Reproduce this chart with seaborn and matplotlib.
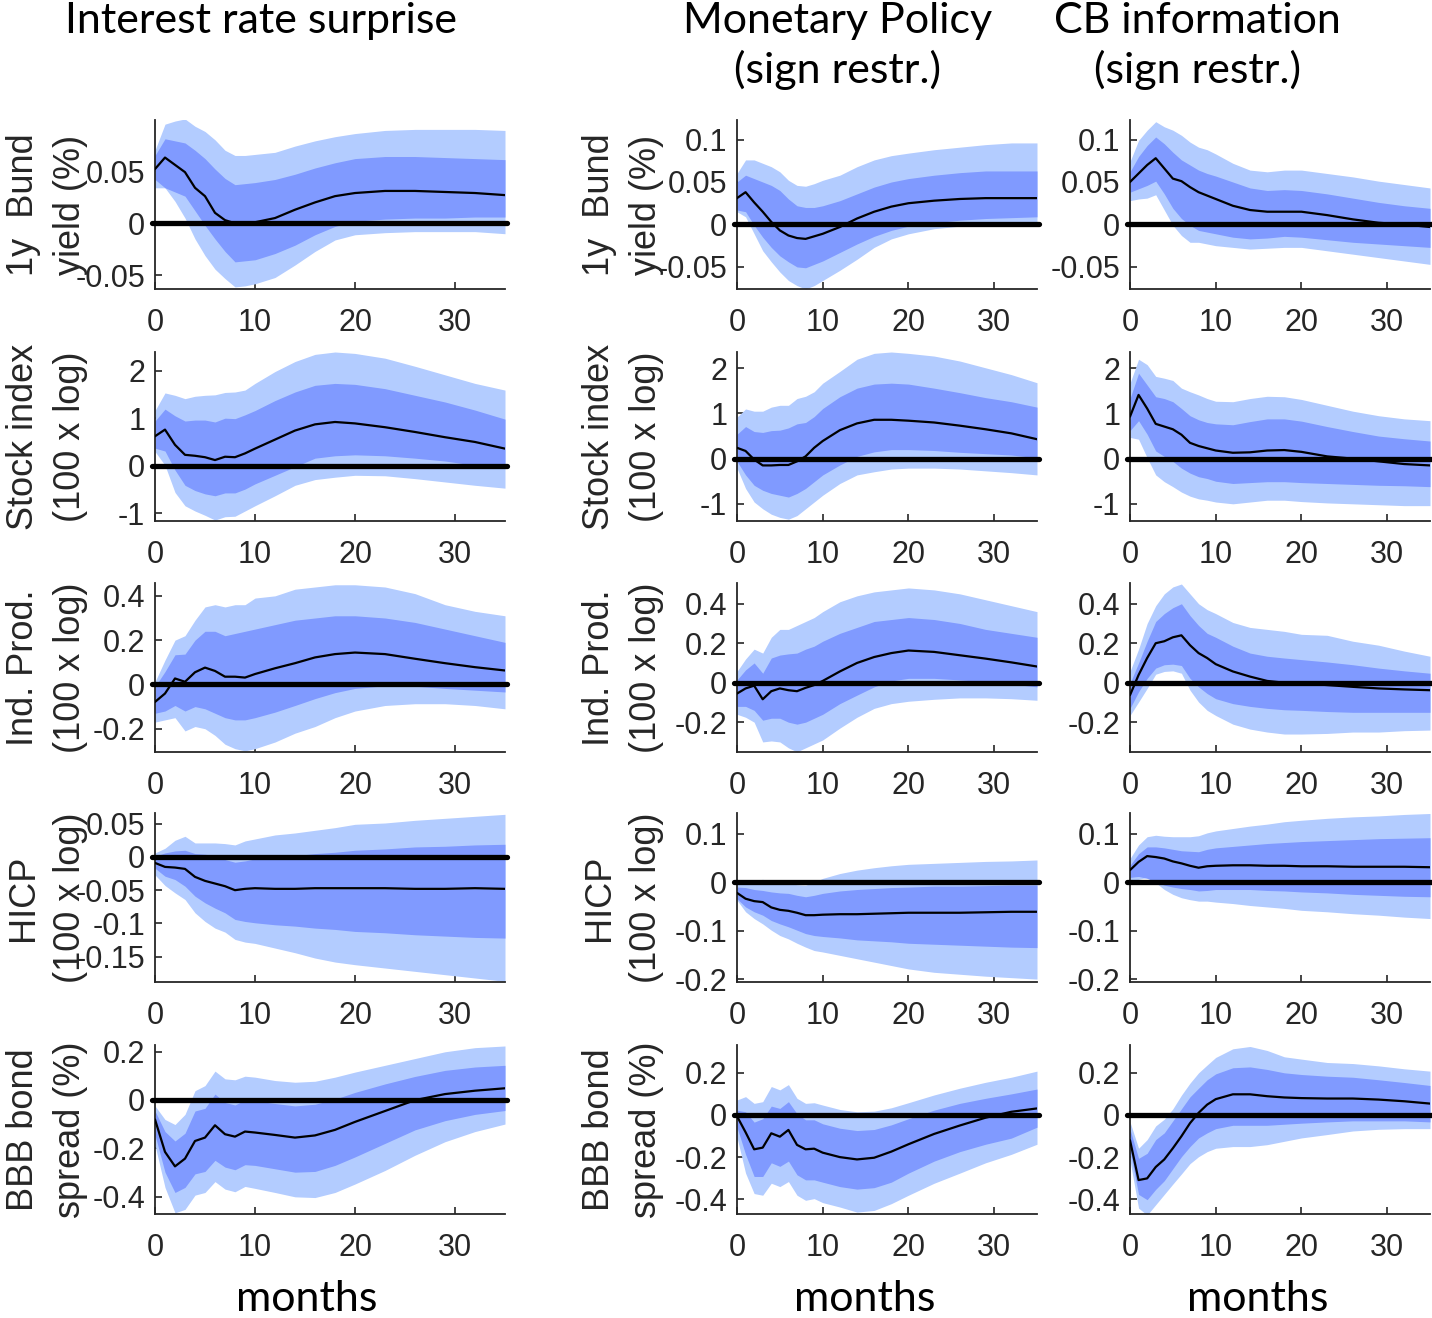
import matplotlib
matplotlib.use("Agg")
import matplotlib.pyplot as plt
import seaborn as sns

horizon = [0, 1, 2, 3, 4, 5, 6, 7, 8, 9, 10, 12, 14, 16, 18, 20, 23, 26, 29, 32, 35]

shock_titles = ["Interest rate surprise", "Monetary Policy\n(sign restr.)", "CB information\n(sign restr.)"]
var_labels = ["1y  Bund\nyield (%)", "Stock index\n(100 x log)", "Ind. Prod.\n(100 x log)",
              "HICP\n(100 x log)", "BBB bond\nspread (%)"]

# === 1y Bund yield ===
bund_irs_med = [0.052, 0.063, 0.056, 0.049, 0.034, 0.026, 0.010, 0.003, 0.0, 0.0, 0.001, 0.005, 0.013, 0.020, 0.026, 0.029, 0.031, 0.031, 0.030, 0.029, 0.027]
bund_irs_hi68 = [0.065, 0.081, 0.079, 0.077, 0.070, 0.062, 0.052, 0.043, 0.037, 0.038, 0.039, 0.042, 0.047, 0.053, 0.058, 0.062, 0.064, 0.064, 0.063, 0.062, 0.061]
bund_irs_lo68 = [0.042, 0.034, 0.030, 0.026, 0.012, -0.002, -0.015, -0.027, -0.037, -0.036, -0.035, -0.029, -0.021, -0.011, -0.003, 0.002, 0.004, 0.005, 0.005, 0.006, 0.006]
bund_irs_hi90 = [0.070, 0.095, 0.098, 0.100, 0.093, 0.088, 0.080, 0.070, 0.065, 0.065, 0.066, 0.068, 0.074, 0.079, 0.083, 0.086, 0.089, 0.090, 0.090, 0.090, 0.089]
bund_irs_lo90 = [0.034, 0.034, 0.021, 0.005, -0.015, -0.031, -0.044, -0.053, -0.061, -0.060, -0.058, -0.052, -0.040, -0.027, -0.016, -0.011, -0.009, -0.008, -0.008, -0.008, -0.010]

bund_mp_med = [0.031, 0.038, 0.026, 0.015, 0.003, -0.007, -0.013, -0.016, -0.017, -0.014, -0.011, -0.003, 0.007, 0.015, 0.021, 0.025, 0.028, 0.030, 0.031, 0.031, 0.031]
bund_mp_hi68 = [0.050, 0.058, 0.054, 0.050, 0.046, 0.040, 0.030, 0.022, 0.020, 0.020, 0.022, 0.028, 0.036, 0.044, 0.050, 0.054, 0.058, 0.061, 0.063, 0.063, 0.063]
bund_mp_lo68 = [0.017, 0.015, -0.001, -0.015, -0.027, -0.037, -0.044, -0.050, -0.051, -0.047, -0.043, -0.033, -0.023, -0.014, -0.007, -0.002, 0.002, 0.005, 0.007, 0.008, 0.009]
bund_mp_hi90 = [0.060, 0.076, 0.076, 0.072, 0.068, 0.062, 0.052, 0.046, 0.045, 0.048, 0.052, 0.058, 0.068, 0.076, 0.081, 0.084, 0.088, 0.091, 0.094, 0.096, 0.096]
bund_mp_lo90 = [0.015, 0.009, -0.011, -0.031, -0.044, -0.056, -0.066, -0.072, -0.076, -0.072, -0.066, -0.054, -0.041, -0.027, -0.017, -0.011, -0.005, -0.002, 0.0, 0.002, 0.002]

bund_cbi_med = [0.050, 0.060, 0.070, 0.078, 0.066, 0.054, 0.051, 0.044, 0.038, 0.034, 0.030, 0.022, 0.017, 0.015, 0.015, 0.015, 0.011, 0.006, 0.002, 0.0, -0.003]
bund_cbi_hi68 = [0.062, 0.080, 0.093, 0.103, 0.095, 0.085, 0.076, 0.070, 0.064, 0.060, 0.057, 0.050, 0.043, 0.040, 0.041, 0.040, 0.036, 0.031, 0.026, 0.022, 0.019]
bund_cbi_lo68 = [0.038, 0.042, 0.046, 0.051, 0.036, 0.019, 0.007, -0.001, -0.007, -0.009, -0.011, -0.015, -0.017, -0.016, -0.014, -0.015, -0.018, -0.021, -0.023, -0.025, -0.027]
bund_cbi_hi90 = [0.074, 0.099, 0.111, 0.121, 0.115, 0.111, 0.105, 0.097, 0.091, 0.088, 0.083, 0.072, 0.064, 0.062, 0.064, 0.064, 0.060, 0.056, 0.051, 0.047, 0.043]
bund_cbi_lo90 = [0.028, 0.030, 0.031, 0.035, 0.017, -0.001, -0.013, -0.021, -0.021, -0.023, -0.025, -0.027, -0.029, -0.028, -0.027, -0.027, -0.031, -0.035, -0.039, -0.043, -0.047]

# === Stock index ===
stock_irs_med = [0.62, 0.76, 0.44, 0.23, 0.21, 0.18, 0.12, 0.19, 0.18, 0.26, 0.36, 0.55, 0.74, 0.87, 0.92, 0.89, 0.81, 0.71, 0.60, 0.50, 0.36]
stock_irs_hi68 = [0.94, 1.19, 1.05, 0.94, 0.96, 0.96, 0.92, 1.00, 0.99, 1.07, 1.16, 1.37, 1.55, 1.69, 1.73, 1.71, 1.62, 1.48, 1.34, 1.17, 0.98]
stock_irs_lo68 = [0.37, 0.31, -0.09, -0.41, -0.52, -0.59, -0.63, -0.57, -0.57, -0.49, -0.38, -0.20, -0.02, 0.16, 0.21, 0.23, 0.21, 0.16, 0.10, 0.01, -0.06]
stock_irs_hi90 = [1.16, 1.53, 1.48, 1.41, 1.46, 1.48, 1.49, 1.54, 1.55, 1.59, 1.73, 1.98, 2.19, 2.34, 2.39, 2.36, 2.26, 2.09, 1.91, 1.73, 1.59]
stock_irs_lo90 = [0.30, 0.01, -0.56, -0.84, -0.95, -1.04, -1.14, -1.07, -1.06, -0.95, -0.84, -0.63, -0.41, -0.29, -0.24, -0.20, -0.21, -0.27, -0.34, -0.41, -0.47]

stock_mp_med = [0.24, 0.17, -0.02, -0.15, -0.15, -0.14, -0.14, -0.06, 0.05, 0.24, 0.39, 0.63, 0.78, 0.86, 0.86, 0.84, 0.80, 0.73, 0.65, 0.56, 0.43]
stock_mp_hi68 = [0.54, 0.71, 0.60, 0.58, 0.62, 0.63, 0.68, 0.77, 0.80, 0.93, 1.11, 1.37, 1.56, 1.65, 1.67, 1.65, 1.56, 1.46, 1.35, 1.26, 1.14]
stock_mp_lo68 = [-0.06, -0.36, -0.59, -0.70, -0.77, -0.81, -0.85, -0.77, -0.66, -0.51, -0.36, -0.14, 0.05, 0.15, 0.20, 0.20, 0.18, 0.14, 0.11, 0.08, 0.02]
stock_mp_hi90 = [0.92, 1.10, 1.05, 1.05, 1.14, 1.18, 1.18, 1.33, 1.38, 1.48, 1.67, 1.93, 2.20, 2.33, 2.36, 2.33, 2.27, 2.16, 2.01, 1.86, 1.68]
stock_mp_lo90 = [-0.21, -0.66, -0.96, -1.11, -1.23, -1.30, -1.34, -1.26, -1.11, -0.96, -0.81, -0.55, -0.36, -0.29, -0.23, -0.21, -0.21, -0.23, -0.27, -0.31, -0.36]

stock_cbi_med = [0.93, 1.41, 1.11, 0.77, 0.71, 0.65, 0.53, 0.35, 0.28, 0.23, 0.18, 0.13, 0.14, 0.18, 0.19, 0.15, 0.05, 0.0, -0.06, -0.12, -0.15]
stock_cbi_hi68 = [1.33, 1.89, 1.63, 1.37, 1.33, 1.26, 1.11, 0.95, 0.86, 0.80, 0.77, 0.75, 0.82, 0.88, 0.88, 0.83, 0.71, 0.60, 0.50, 0.44, 0.39]
stock_cbi_lo68 = [0.62, 0.84, 0.54, 0.17, 0.05, -0.06, -0.21, -0.32, -0.40, -0.44, -0.50, -0.55, -0.53, -0.51, -0.51, -0.53, -0.55, -0.57, -0.59, -0.60, -0.62]
stock_cbi_hi90 = [1.67, 2.20, 2.08, 1.82, 1.78, 1.73, 1.56, 1.48, 1.41, 1.33, 1.27, 1.26, 1.33, 1.38, 1.37, 1.31, 1.18, 1.05, 0.95, 0.88, 0.84]
stock_cbi_lo90 = [0.47, 0.43, 0.02, -0.36, -0.51, -0.62, -0.74, -0.83, -0.89, -0.92, -0.96, -1.00, -0.96, -0.92, -0.92, -0.95, -0.98, -1.00, -1.02, -1.04, -1.04]

# === Industrial production ===
ip_irs_med = [-0.079, -0.041, 0.027, 0.012, 0.055, 0.076, 0.061, 0.035, 0.035, 0.031, 0.047, 0.073, 0.096, 0.122, 0.137, 0.144, 0.137, 0.116, 0.096, 0.078, 0.063]
ip_irs_hi68 = [-0.01, 0.058, 0.134, 0.137, 0.20, 0.24, 0.24, 0.22, 0.23, 0.24, 0.25, 0.27, 0.29, 0.30, 0.31, 0.31, 0.30, 0.28, 0.25, 0.22, 0.19]
ip_irs_lo68 = [-0.13, -0.12, -0.095, -0.12, -0.10, -0.11, -0.13, -0.15, -0.16, -0.16, -0.15, -0.125, -0.095, -0.064, -0.037, -0.018, -0.006, -0.008, -0.018, -0.026, -0.034]
ip_irs_hi90 = [0.012, 0.11, 0.20, 0.22, 0.29, 0.35, 0.36, 0.35, 0.36, 0.36, 0.39, 0.40, 0.43, 0.44, 0.45, 0.45, 0.44, 0.41, 0.36, 0.33, 0.31]
ip_irs_lo90 = [-0.17, -0.16, -0.15, -0.21, -0.19, -0.20, -0.23, -0.27, -0.29, -0.30, -0.29, -0.26, -0.22, -0.19, -0.15, -0.12, -0.095, -0.087, -0.087, -0.095, -0.11]

ip_mp_med = [-0.055, -0.029, -0.015, -0.084, -0.043, -0.029, -0.038, -0.043, -0.026, -0.012, 0.009, 0.057, 0.10, 0.13, 0.15, 0.163, 0.156, 0.139, 0.122, 0.103, 0.082]
ip_mp_hi68 = [0.014, 0.065, 0.10, 0.048, 0.125, 0.14, 0.146, 0.15, 0.17, 0.185, 0.21, 0.25, 0.28, 0.31, 0.32, 0.33, 0.32, 0.30, 0.27, 0.25, 0.23]
ip_mp_lo68 = [-0.12, -0.12, -0.14, -0.19, -0.18, -0.18, -0.20, -0.21, -0.20, -0.18, -0.16, -0.106, -0.063, -0.021, 0.009, 0.022, 0.022, 0.014, 0.005, -0.007, -0.021]
ip_mp_hi90 = [0.057, 0.12, 0.17, 0.15, 0.23, 0.27, 0.27, 0.29, 0.31, 0.33, 0.36, 0.41, 0.44, 0.46, 0.47, 0.48, 0.47, 0.45, 0.42, 0.39, 0.36]
ip_mp_lo90 = [-0.16, -0.175, -0.20, -0.30, -0.295, -0.30, -0.33, -0.35, -0.33, -0.31, -0.29, -0.23, -0.175, -0.13, -0.106, -0.094, -0.084, -0.077, -0.077, -0.081, -0.089]

ip_cbi_med = [-0.063, 0.039, 0.125, 0.20, 0.21, 0.23, 0.24, 0.19, 0.15, 0.125, 0.094, 0.057, 0.031, 0.009, 0.0, -0.003, -0.012, -0.021, -0.029, -0.034, -0.038]
ip_cbi_hi68 = [-0.003, 0.10, 0.21, 0.31, 0.35, 0.38, 0.40, 0.34, 0.29, 0.25, 0.23, 0.185, 0.15, 0.134, 0.125, 0.117, 0.105, 0.091, 0.074, 0.06, 0.048]
ip_cbi_lo68 = [-0.13, -0.046, 0.022, 0.074, 0.091, 0.094, 0.087, 0.022, -0.021, -0.055, -0.081, -0.106, -0.12, -0.13, -0.137, -0.14, -0.146, -0.15, -0.15, -0.15, -0.15]
ip_cbi_hi90 = [0.057, 0.17, 0.30, 0.39, 0.45, 0.485, 0.50, 0.45, 0.40, 0.37, 0.35, 0.305, 0.28, 0.27, 0.26, 0.245, 0.24, 0.21, 0.19, 0.16, 0.134]
ip_cbi_lo90 = [-0.166, -0.098, -0.029, 0.043, 0.057, 0.06, 0.048, -0.038, -0.098, -0.14, -0.166, -0.21, -0.235, -0.25, -0.26, -0.26, -0.257, -0.25, -0.25, -0.243, -0.24]

# === HICP ===
hicp_irs_med = [-0.009, -0.015, -0.016, -0.018, -0.030, -0.036, -0.040, -0.044, -0.050, -0.048, -0.047, -0.048, -0.048, -0.047, -0.047, -0.047, -0.047, -0.048, -0.048, -0.047, -0.048]
hicp_irs_hi68 = [0.001, 0.006, 0.009, 0.010, 0.005, 0.004, 0.002, -0.004, -0.008, -0.006, -0.003, 0.0, 0.002, 0.005, 0.007, 0.010, 0.012, 0.015, 0.016, 0.018, 0.019]
hicp_irs_lo68 = [-0.017, -0.029, -0.034, -0.044, -0.059, -0.069, -0.077, -0.084, -0.094, -0.097, -0.099, -0.102, -0.104, -0.107, -0.109, -0.112, -0.114, -0.117, -0.119, -0.121, -0.122]
hicp_irs_hi90 = [0.006, 0.013, 0.025, 0.031, 0.021, 0.021, 0.021, 0.020, 0.018, 0.024, 0.027, 0.033, 0.036, 0.040, 0.044, 0.049, 0.051, 0.055, 0.058, 0.061, 0.064]
hicp_irs_lo90 = [-0.027, -0.043, -0.054, -0.064, -0.084, -0.097, -0.107, -0.113, -0.124, -0.128, -0.130, -0.137, -0.144, -0.152, -0.158, -0.162, -0.167, -0.172, -0.177, -0.182, -0.187]

hicp_mp_med = [-0.022, -0.034, -0.039, -0.041, -0.052, -0.057, -0.059, -0.063, -0.068, -0.068, -0.067, -0.066, -0.066, -0.065, -0.064, -0.063, -0.063, -0.063, -0.062, -0.061, -0.061]
hicp_mp_hi68 = [-0.010, -0.011, -0.015, -0.017, -0.020, -0.022, -0.023, -0.027, -0.030, -0.027, -0.023, -0.018, -0.015, -0.013, -0.011, -0.010, -0.008, -0.008, -0.007, -0.006, -0.006]
hicp_mp_lo68 = [-0.034, -0.051, -0.061, -0.068, -0.079, -0.086, -0.092, -0.099, -0.106, -0.110, -0.112, -0.115, -0.119, -0.121, -0.123, -0.126, -0.128, -0.130, -0.132, -0.134, -0.135]
hicp_mp_hi90 = [-0.003, 0.003, 0.004, 0.006, 0.001, -0.001, -0.003, -0.005, -0.006, 0.0, 0.008, 0.018, 0.025, 0.030, 0.034, 0.037, 0.039, 0.041, 0.043, 0.044, 0.046]
hicp_mp_lo90 = [-0.037, -0.061, -0.075, -0.086, -0.099, -0.110, -0.117, -0.126, -0.134, -0.141, -0.144, -0.151, -0.158, -0.165, -0.172, -0.179, -0.186, -0.190, -0.194, -0.197, -0.200]

hicp_cbi_med = [0.025, 0.042, 0.054, 0.052, 0.049, 0.043, 0.039, 0.034, 0.030, 0.033, 0.034, 0.035, 0.035, 0.034, 0.034, 0.033, 0.033, 0.032, 0.032, 0.032, 0.031]
hicp_cbi_hi68 = [0.035, 0.059, 0.073, 0.073, 0.071, 0.068, 0.065, 0.064, 0.063, 0.068, 0.071, 0.074, 0.077, 0.080, 0.082, 0.084, 0.086, 0.088, 0.090, 0.091, 0.092]
hicp_cbi_lo68 = [0.010, 0.012, 0.008, 0.001, -0.006, -0.010, -0.013, -0.015, -0.018, -0.017, -0.015, -0.015, -0.015, -0.017, -0.018, -0.020, -0.022, -0.025, -0.027, -0.029, -0.030]
hicp_cbi_hi90 = [0.049, 0.077, 0.094, 0.097, 0.095, 0.094, 0.094, 0.094, 0.096, 0.102, 0.106, 0.111, 0.116, 0.120, 0.125, 0.128, 0.132, 0.135, 0.137, 0.140, 0.142]
hicp_cbi_lo90 = [0.001, 0.006, 0.010, -0.001, -0.015, -0.025, -0.032, -0.036, -0.039, -0.039, -0.041, -0.044, -0.048, -0.051, -0.054, -0.058, -0.061, -0.065, -0.068, -0.072, -0.075]

# === BBB bond spread ===
bbb_irs_med = [-0.081, -0.215, -0.275, -0.243, -0.170, -0.156, -0.105, -0.142, -0.152, -0.131, -0.135, -0.145, -0.156, -0.147, -0.124, -0.091, -0.046, -0.001, 0.024, 0.038, 0.048]
bbb_irs_hi68 = [-0.046, -0.131, -0.170, -0.138, -0.046, -0.035, 0.024, -0.011, -0.021, -0.001, -0.004, -0.015, -0.025, -0.018, 0.003, 0.031, 0.066, 0.097, 0.122, 0.136, 0.143]
bbb_irs_lo68 = [-0.145, -0.299, -0.383, -0.362, -0.306, -0.296, -0.250, -0.278, -0.289, -0.268, -0.271, -0.285, -0.299, -0.296, -0.271, -0.236, -0.180, -0.124, -0.086, -0.060, -0.044]
bbb_irs_hi90 = [-0.025, -0.081, -0.102, -0.060, 0.038, 0.059, 0.119, 0.087, 0.083, 0.098, 0.094, 0.080, 0.073, 0.077, 0.094, 0.115, 0.143, 0.171, 0.199, 0.216, 0.223]
bbb_irs_lo90 = [-0.187, -0.362, -0.467, -0.453, -0.394, -0.383, -0.338, -0.369, -0.380, -0.358, -0.366, -0.383, -0.401, -0.404, -0.383, -0.348, -0.292, -0.229, -0.173, -0.131, -0.100]

bbb_mp_med = [-0.006, -0.082, -0.163, -0.155, -0.087, -0.103, -0.071, -0.142, -0.163, -0.160, -0.179, -0.200, -0.211, -0.203, -0.174, -0.139, -0.090, -0.050, -0.013, 0.015, 0.031]
bbb_mp_hi68 = [0.023, 0.015, -0.034, -0.018, 0.042, 0.031, 0.063, 0.006, -0.023, -0.023, -0.042, -0.063, -0.074, -0.069, -0.047, -0.018, 0.023, 0.055, 0.079, 0.100, 0.123]
bbb_mp_lo68 = [-0.058, -0.187, -0.292, -0.292, -0.227, -0.244, -0.219, -0.284, -0.308, -0.308, -0.319, -0.340, -0.352, -0.345, -0.319, -0.276, -0.219, -0.174, -0.139, -0.110, -0.058]
bbb_mp_hi90 = [0.071, 0.087, 0.055, 0.063, 0.135, 0.119, 0.144, 0.079, 0.055, 0.058, 0.047, 0.026, 0.015, 0.018, 0.034, 0.058, 0.095, 0.127, 0.155, 0.179, 0.208]
bbb_mp_lo90 = [-0.106, -0.276, -0.373, -0.381, -0.324, -0.340, -0.316, -0.381, -0.405, -0.397, -0.416, -0.437, -0.461, -0.453, -0.421, -0.381, -0.324, -0.276, -0.227, -0.187, -0.139]

bbb_cbi_med = [-0.120, -0.309, -0.301, -0.247, -0.211, -0.158, -0.101, -0.039, 0.010, 0.049, 0.075, 0.098, 0.098, 0.089, 0.083, 0.080, 0.078, 0.078, 0.073, 0.065, 0.054]
bbb_cbi_hi68 = [-0.068, -0.206, -0.182, -0.117, -0.085, -0.028, 0.029, 0.086, 0.127, 0.167, 0.195, 0.224, 0.228, 0.216, 0.200, 0.192, 0.184, 0.179, 0.167, 0.154, 0.140]
bbb_cbi_lo68 = [-0.166, -0.377, -0.402, -0.353, -0.312, -0.255, -0.198, -0.150, -0.109, -0.085, -0.065, -0.049, -0.049, -0.049, -0.044, -0.039, -0.033, -0.028, -0.028, -0.028, -0.033]
bbb_cbi_hi90 = [-0.033, -0.158, -0.117, -0.052, -0.020, 0.029, 0.094, 0.151, 0.200, 0.237, 0.273, 0.314, 0.325, 0.306, 0.276, 0.265, 0.249, 0.244, 0.233, 0.219, 0.208]
bbb_cbi_lo90 = [-0.215, -0.442, -0.475, -0.426, -0.377, -0.328, -0.280, -0.231, -0.198, -0.174, -0.158, -0.150, -0.150, -0.141, -0.125, -0.109, -0.093, -0.076, -0.068, -0.065, -0.065]

# axis limits and ticks per row (first column / sign-restricted columns)
ylims_irs = [(-0.063, 0.099), (-1.16, 2.39), (-0.305, 0.458), (-0.188, 0.066), (-0.472, 0.227)]
ylims_sign = [(-0.076, 0.123), (-1.38, 2.36), (-0.351, 0.505), (-0.206, 0.143), (-0.47, 0.332)]
yticks_irs = [[-0.05, 0, 0.05], [-1, 0, 1, 2], [-0.2, 0, 0.2, 0.4], [-0.15, -0.1, -0.05, 0, 0.05], [-0.4, -0.2, 0, 0.2]]
yticks_sign = [[-0.05, 0, 0.05, 0.1], [-1, 0, 1, 2], [-0.2, 0, 0.2, 0.4], [-0.2, -0.1, 0, 0.1], [-0.4, -0.2, 0, 0.2]]
xticks = [0, 10, 20, 30]

panels = {}
for vname in ["bund", "stock", "ip", "hicp", "bbb"]:
    for sname in ["irs", "mp", "cbi"]:
        g = globals()
        panels[(vname, sname)] = {k: g[f"{vname}_{sname}_{k}"] for k in ["med", "hi68", "lo68", "hi90", "lo90"]}

sns.set_theme(style="ticks")
plt.rcParams["font.family"] = ["Liberation Sans", "DejaVu Sans"]
plt.rcParams["axes.unicode_minus"] = False

light = "#b3ccff"
dark = "#809aff"
grey = "#262626"

W, H = 1432, 1318
fig = plt.figure(figsize=(W / 100, H / 100), dpi=100)

col_left = [155, 737, 1130]
col_width = [350, 300, 300]
row_top = [120, 352, 583, 813, 1045]
row_h = 169
# right edge (px) of the two-line y label block for columns 1 and 2
ylabel_right = [88, 664]

for i, vname in enumerate(["bund", "stock", "ip", "hicp", "bbb"]):
    for j, sname in enumerate(["irs", "mp", "cbi"]):
        rect = [col_left[j] / W, 1 - (row_top[i] + row_h) / H, col_width[j] / W, row_h / H]
        ax = fig.add_axes(rect)
        d = panels[(vname, sname)]
        ax.fill_between(horizon, d["lo90"], d["hi90"], color=light, lw=0, zorder=1)
        ax.fill_between(horizon, d["lo68"], d["hi68"], color=dark, lw=0, zorder=2)
        ax.axhline(0, xmin=-0.01, xmax=1.005, color="black", lw=3.8, zorder=3, clip_on=False)
        sns.lineplot(x=horizon, y=d["med"], ax=ax, color="black", lw=1.6, zorder=4)

        ax.set_xlim(0, 35)
        if j == 0:
            ax.set_ylim(*ylims_irs[i])
            yt = yticks_irs[i]
        else:
            ax.set_ylim(*ylims_sign[i])
            yt = yticks_sign[i]
        ax.set_yticks(yt)
        ax.set_yticklabels([f"{v:g}" for v in yt])
        ax.set_xticks(xticks)
        ax.set_xticklabels([str(v) for v in xticks])

        ax.spines[["top", "right"]].set_visible(False)
        for s in ["left", "bottom"]:
            ax.spines[s].set_color(grey)
            ax.spines[s].set_linewidth(1.3)
        ax.tick_params(axis="both", direction="in", length=5, width=1.2, color=grey,
                       labelcolor=grey, labelsize=22)
        ax.tick_params(axis="y", pad=7)
        ax.tick_params(axis="x", pad=14)
        ax.set_xlabel("")
        ax.set_ylabel("")

        if j < 2:
            ax.set_ylabel(var_labels[i], fontsize=26, color=grey, linespacing=1.45)
            ax.yaxis.set_label_coords((ylabel_right[j] - col_left[j]) / col_width[j], 0.5)

# column titles
title_x = [261, 838, 1197]
for t, x in zip(shock_titles, title_x):
    fig.text(x / W, 1 - 2 / H, t, ha="center", va="top", fontsize=31,
             family=["Lato", "DejaVu Sans"], color="black", linespacing=1.3)

# x labels
month_x = [307, 865, 1258]
for x in month_x:
    fig.text(x / W, 1 - 1299 / H, "months", ha="center", va="center", fontsize=31,
             family=["Lato", "DejaVu Sans"], color="black")

plt.savefig("out.png", dpi=100)
